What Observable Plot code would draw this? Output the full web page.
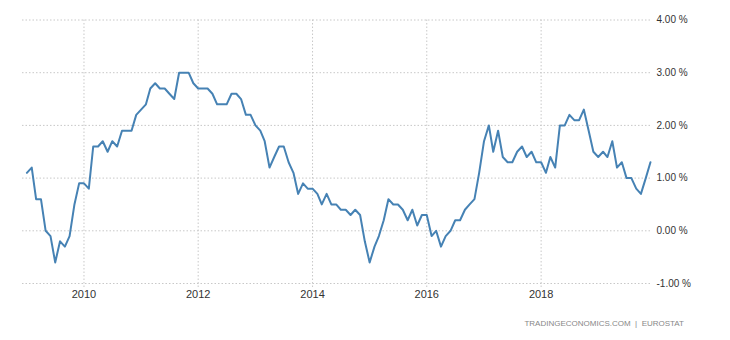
<!DOCTYPE html>
<html>
<head>
<meta charset="utf-8">
<script src="https://cdn.jsdelivr.net/npm/d3@7"></script>
<script src="https://cdn.jsdelivr.net/npm/@observablehq/plot@0.6"></script>
<style>
  body { margin: 0; background: #fff; width: 730px; height: 340px; position: relative; overflow: hidden; }
  #chart svg { display: block; }
  #caption {
    position: absolute; top: 318px; right: 46px;
    font-family: "Liberation Sans", Arial, sans-serif; font-size: 8px; line-height: 12px;
    color: #888; white-space: pre;
  }
</style>
</head>
<body>
<div id="chart"></div>
<div id="caption">TRADINGECONOMICS.COM  |  EUROSTAT</div>
<script>
// Monthly inflation rate (%), January to December of each year
const years = [2009, 2010, 2011, 2012, 2013, 2014, 2015, 2016, 2017, 2018, 2019];
const rate2009 = [1.1, 1.2, 0.6, 0.6, 0.0, -0.1, -0.6, -0.2, -0.3, -0.1, 0.5, 0.9];
const rate2010 = [0.9, 0.8, 1.6, 1.6, 1.7, 1.5, 1.7, 1.6, 1.9, 1.9, 1.9, 2.2];
const rate2011 = [2.3, 2.4, 2.7, 2.8, 2.7, 2.7, 2.6, 2.5, 3.0, 3.0, 3.0, 2.8];
const rate2012 = [2.7, 2.7, 2.7, 2.6, 2.4, 2.4, 2.4, 2.6, 2.6, 2.5, 2.2, 2.2];
const rate2013 = [2.0, 1.9, 1.7, 1.2, 1.4, 1.6, 1.6, 1.3, 1.1, 0.7, 0.9, 0.8];
const rate2014 = [0.8, 0.7, 0.5, 0.7, 0.5, 0.5, 0.4, 0.4, 0.3, 0.4, 0.3, -0.2];
const rate2015 = [-0.6, -0.3, -0.1, 0.2, 0.6, 0.5, 0.5, 0.4, 0.2, 0.4, 0.1, 0.3];
const rate2016 = [0.3, -0.1, 0.0, -0.3, -0.1, 0.0, 0.2, 0.2, 0.4, 0.5, 0.6, 1.1];
const rate2017 = [1.7, 2.0, 1.5, 1.9, 1.4, 1.3, 1.3, 1.5, 1.6, 1.4, 1.5, 1.3];
const rate2018 = [1.3, 1.1, 1.4, 1.2, 2.0, 2.0, 2.2, 2.1, 2.1, 2.3, 1.9, 1.5];
const rate2019 = [1.4, 1.5, 1.4, 1.7, 1.2, 1.3, 1.0, 1.0, 0.8, 0.7, 1.0, 1.3];

const xTickYears = [2010, 2012, 2014, 2016, 2018];
const yTicks = [-1, 0, 1, 2, 3, 4];

const series = [rate2009, rate2010, rate2011, rate2012, rate2013, rate2014,
                rate2015, rate2016, rate2017, rate2018, rate2019];
const data = [];
years.forEach((yr, i) => {
  series[i].forEach((v, m) => data.push({date: new Date(Date.UTC(yr, m, 1)), value: v}));
});
const xTicks = xTickYears.map(y => new Date(Date.UTC(y, 0, 1)));

const chart = Plot.plot({
  width: 730,
  height: 312,
  marginLeft: 22,
  marginRight: 78,
  marginTop: 19.5,
  marginBottom: 29,
  style: {fontFamily: '"Liberation Sans", Arial, sans-serif', color: "#333", background: "#fff"},
  x: {type: "utc", domain: [new Date(Date.UTC(2008, 11, 4)), new Date(Date.UTC(2019, 11, 14))]},
  y: {domain: [-1, 4]},
  marks: [
    Plot.ruleY(yTicks, {stroke: "#c8c8c8", strokeDasharray: "1.5,2", strokeWidth: 1}),
    Plot.ruleX(xTicks, {stroke: "#c8c8c8", strokeDasharray: "1.5,2", strokeWidth: 1, insetBottom: -6}),
    Plot.line(data, {x: "date", y: "value", stroke: "#4682b4", strokeWidth: 2, strokeLinejoin: "round"}),
    Plot.axisX(xTicks, {tickSize: 0, tickPadding: 7, tickFormat: d3.utcFormat("%Y"), fontSize: 11, label: null}),
    Plot.axisY(yTicks, {anchor: "right", tickSize: 0, tickPadding: 4, fontSize: 10,
                        tickFormat: d => d.toFixed(2) + " %", label: null})
  ]
});
document.getElementById("chart").append(chart);
</script>
</body>
</html>
